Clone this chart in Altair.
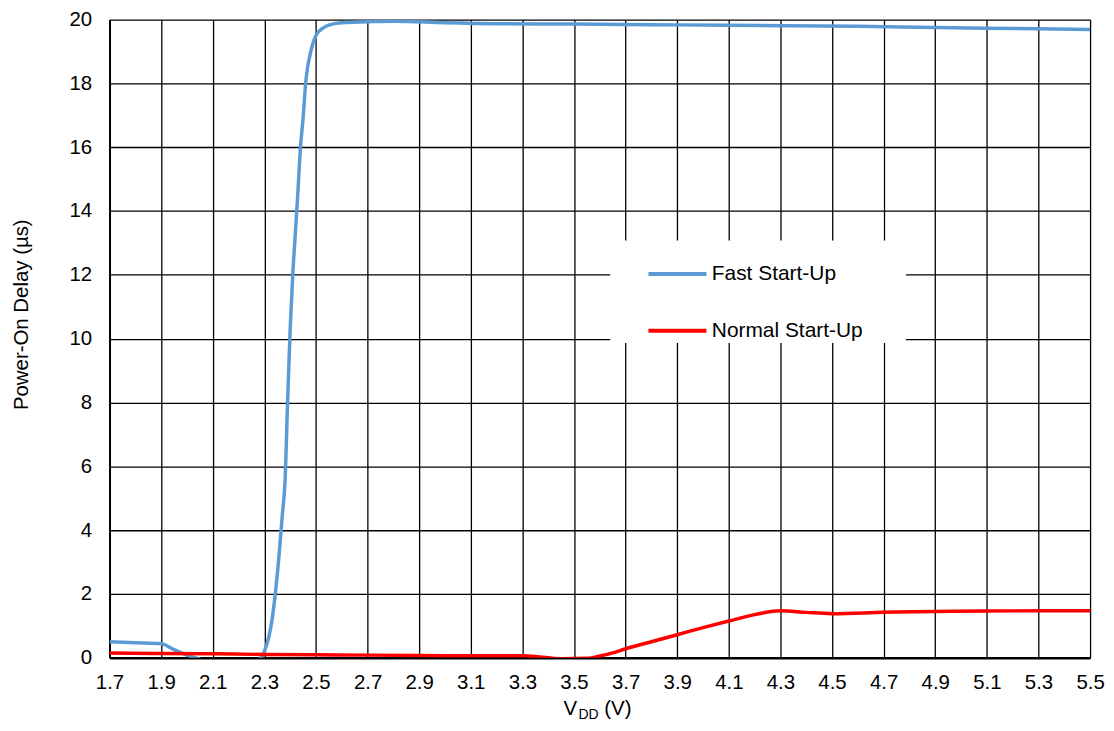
import altair as alt
import pandas as pd

FONT = "Liberation Sans, Arial, sans-serif"

# ---- data ----
series_names = ["Fast Start-Up", "Normal Start-Up"]
series_colors = ["#5B9BD5", "#FF0000"]

vdd_fast = [1.7, 1.8, 1.9, 1.95, 2.0, 2.05, 2.1, 2.2, 2.28, 2.3, 2.33, 2.35, 2.37,
            2.38, 2.39, 2.40, 2.41, 2.42, 2.43, 2.44, 2.45, 2.46, 2.48, 2.5, 2.53,
            2.56, 2.6, 2.7, 2.8, 3.0, 3.2, 3.5, 3.8, 4.1, 4.3, 4.6, 4.9, 5.2, 5.5]
delay_fast = [0.50, 0.47, 0.44, 0.25, 0.08, -0.05, -0.2, -0.2, -0.05, 0.2, 1.2, 2.6, 4.5,
              5.5, 8.0, 10.3, 12.0, 13.3, 14.6, 16.0, 16.9, 18.0, 19.0, 19.5, 19.75,
              19.85, 19.9, 19.93, 19.95, 19.9, 19.87, 19.86, 19.84, 19.82, 19.81, 19.79,
              19.75, 19.72, 19.69]

vdd_normal = [1.7, 1.9, 2.1, 2.3, 2.5, 2.7, 2.9, 3.1, 3.3, 3.35, 3.45, 3.55, 3.6, 3.65,
              3.7, 3.8, 3.9, 4.0, 4.1, 4.2, 4.3, 4.4, 4.5, 4.7, 4.9, 5.1, 5.3, 5.5]
delay_normal = [0.15, 0.13, 0.12, 0.10, 0.09, 0.08, 0.07, 0.06, 0.06, 0.04, -0.03, -0.02,
                0.05, 0.15, 0.28, 0.50, 0.72, 0.94, 1.15, 1.35, 1.47, 1.42, 1.38, 1.42,
                1.45, 1.46, 1.47, 1.47]

x_ticks = [1.7, 1.9, 2.1, 2.3, 2.5, 2.7, 2.9, 3.1, 3.3, 3.5, 3.7, 3.9, 4.1, 4.3,
           4.5, 4.7, 4.9, 5.1, 5.3, 5.5]
y_ticks = [0, 2, 4, 6, 8, 10, 12, 14, 16, 18, 20]

x_title_parts = ["V", "DD", "(V)"]
y_title = "Power-On Delay (µs)"

df = pd.concat([
    pd.DataFrame({"vdd": vdd_fast, "delay": delay_fast, "series": series_names[0]}),
    pd.DataFrame({"vdd": vdd_normal, "delay": delay_normal, "series": series_names[1]}),
], ignore_index=True)

W, H = 985, 641

lines = alt.Chart(df).mark_line(strokeWidth=3.5, clip=True, interpolate="monotone").encode(
    x=alt.X("vdd:Q",
            scale=alt.Scale(domain=[1.7, 5.5], nice=False, zero=False),
            axis=alt.Axis(values=x_ticks, format=".1f", title=None, grid=True,
                          gridColor="black", gridWidth=1.3, gridOpacity=1,
                          domainColor="black", domainWidth=2.5, ticks=False, tickSize=0,
                          labelFontSize=20.5, labelFont=FONT, labelColor="black",
                          labelPadding=15, labelFlush=False, labelOverlap=False)),
    y=alt.Y("delay:Q",
            scale=alt.Scale(domain=[0, 20], nice=False),
            axis=alt.Axis(values=y_ticks, title=y_title, grid=True,
                          gridColor="black", gridWidth=1.3, gridOpacity=1,
                          domainColor="black", domainWidth=2, ticks=False, tickSize=0,
                          labelFontSize=20.5, labelFont=FONT, labelColor="black",
                          labelPadding=18, labelOverlap=False,
                          titleFontSize=20.5, titleFont=FONT, titleFontWeight="normal",
                          titleColor="black", titlePadding=38, titleY=296)),
    color=alt.Color("series:N",
                    scale=alt.Scale(domain=series_names, range=series_colors),
                    legend=alt.Legend(title=None, orient="none", legendX=503, legendY=222,
                                      fillColor="white", padding=2,
                                      symbolType="stroke", symbolSize=3400,
                                      symbolStrokeWidth=4, symbolOffset=34,
                                      labelOffset=3, rowPadding=15, labelLimit=400,
                                      labelExpr="datum.label + '\u00a0\u00a0\u00a0\u00a0\u00a0\u00a0\u00a0\u200b'",
                                      labelFontSize=21, labelFont=FONT,
                                      labelColor="black")),
)

tdf = pd.DataFrame({"t": [0]})
t_v = alt.Chart(tdf).mark_text(text=x_title_parts[0], font=FONT, fontSize=20.5, align="left",
                               baseline="alphabetic", color="black").encode(
    x=alt.value(456), y=alt.value(699))
t_dd = alt.Chart(tdf).mark_text(text=x_title_parts[1], font=FONT, fontSize=14, align="left",
                                baseline="alphabetic", color="black").encode(
    x=alt.value(471), y=alt.value(703))
t_vv = alt.Chart(tdf).mark_text(text=x_title_parts[2], font=FONT, fontSize=20.5, align="left",
                                baseline="alphabetic", color="black").encode(
    x=alt.value(497), y=alt.value(699))

chart = alt.layer(lines, t_v, t_dd, t_vv).properties(
    width=W, height=H,
    autosize=alt.AutoSizeParams(type="none"),
    padding={"left": 102, "top": 10, "right": 16, "bottom": 64},
).configure_view(stroke=None)

chart.save("out.html", embed_options={"renderer": "svg", "actions": False})
